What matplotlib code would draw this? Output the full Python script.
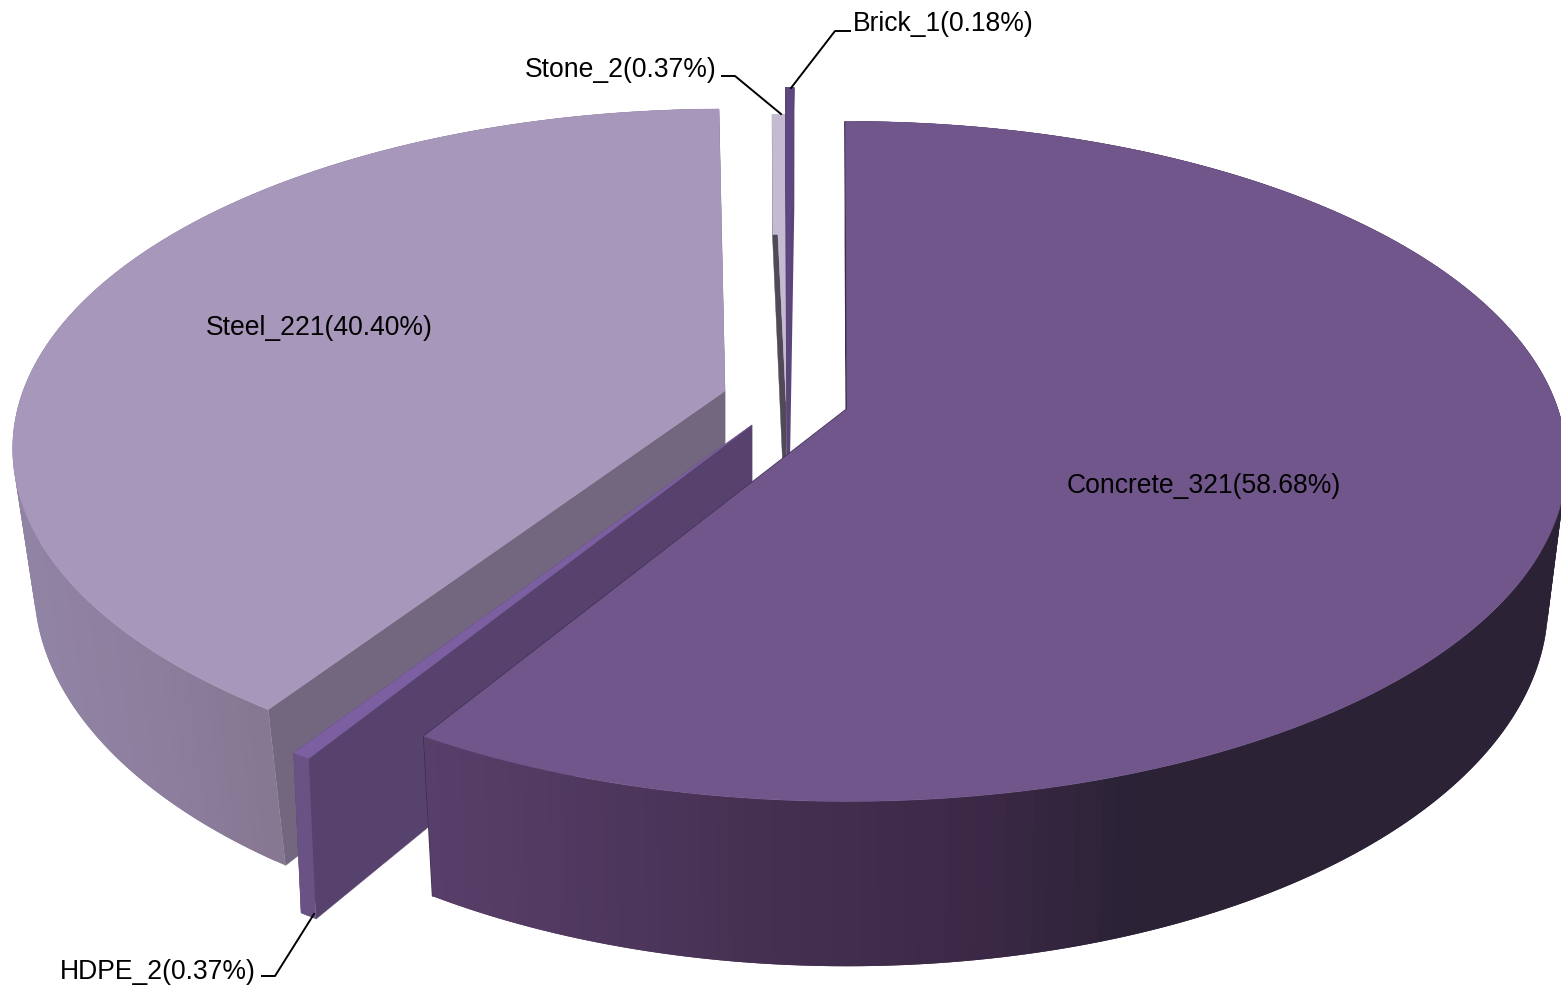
#!/usr/bin/env python3
"""Exploded 3D pie of material counts, drawn as projected polygons"""
import numpy as np
import matplotlib
matplotlib.use('Agg')
import matplotlib.pyplot as plt
from matplotlib.colors import to_rgb
from matplotlib.patches import Polygon

plt.rcParams['font.family'] = ['Liberation Sans', 'DejaVu Sans']

# slices clockwise from 12 o'clock
names = ['Concrete', 'HDPE', 'Steel', 'Stone', 'Brick']
counts = [321, 2, 221, 2, 1]

# projection of the top and bottom disks per slice: a, b, k (pixels)
top_disk = {'Concrete': (711, 332, 0.154), 'HDPE': (727, 342, 0.154), 'Steel': (702, 330, 0.17),
            'Stone': (706, 332, 0.154), 'Brick': (706, 332, 0.154)}
bottom_disk = {'Concrete': (692, 353, 0.16), 'HDPE': (711, 364, 0.16), 'Steel': (682, 353, 0.16),
               'Stone': (690, 353, 0.16), 'Brick': (690, 353, 0.16)}
DEPTH = 137

# per slice geometry: exploded apex and small angle shift in degrees
apex = {'Concrete': (847, 410), 'HDPE': (752, 426), 'Steel': (725, 392),
        'Stone': (786, 403), 'Brick': (788, 376)}
shift = {'Concrete': -0.15, 'HDPE': 0.75, 'Steel': 1.4, 'Stone': 0.67, 'Brick': 0.5}

top_color = {'Concrete': '#71568c', 'HDPE': '#7c5fa0', 'Steel': '#a797bb',
             'Stone': '#c4bbd2', 'Brick': '#5f4880'}
wall_color = {'Concrete': '#3a2c4a', 'HDPE': '#57426e', 'Steel': '#72677f',
              'Stone': '#4f4a55', 'Brick': '#5a4478'}
wall_lw = {'Concrete': 1.2, 'HDPE': 0.3, 'Steel': 0.3, 'Stone': 0.3, 'Brick': 1.6}
# rim shading: (screen x, colour) stops
rim_stops = {'Concrete': [(430, '#583f6a'), (780, '#442f50'), (1000, '#3a2845'), (1130, '#2b2236'), (1561, '#2b2236')],
             'HDPE': [(290, '#6b5285'), (330, '#6b5285')],
             'Steel': [(30, '#9183a3'), (150, '#8d7e9e'), (290, '#84758f')],
             'Stone': [(770, '#c4bbd2'), (790, '#c4bbd2')],
             'Brick': [(780, '#5f4880'), (800, '#5f4880')]}


def project(name, theta, disk, depth=0):
    t = np.radians(theta)
    u, v = np.sin(t), np.cos(t)
    a, b, k = disk[name]
    x0, y0 = apex[name]
    d = 1 + k * v
    return x0 + a * u / d, y0 + depth - b * v / d


def rim_color(name, x):
    xs = [s[0] for s in rim_stops[name]]
    cs = np.array([to_rgb(s[1]) for s in rim_stops[name]])
    return [np.interp(x, xs, cs[:, i]) for i in range(3)]


def draw_slice(ax, name, start, end):
    thetas = np.linspace(start, end, max(int(end - start), 2) + 1)
    tx, ty = project(name, thetas, top_disk)
    bx, by = project(name, thetas, bottom_disk, DEPTH)
    x0, y0 = apex[name]

    # the two cut faces
    for j in [-1, 0]:
        wall = [(x0, y0), (tx[j], ty[j]), (bx[j], by[j]), (x0, y0 + DEPTH)]
        ax.add_patch(Polygon(wall, closed=True, facecolor=wall_color[name],
                             edgecolor=wall_color[name], lw=wall_lw[name]))

    # rim, quads overlap the next one so no seams show
    n = len(thetas)
    for i in range(n - 1):
        e = min(i + 2, n - 1)
        quad = list(zip(tx[i:e + 1], ty[i:e + 1])) + list(zip(bx[i:e + 1], by[i:e + 1]))[::-1]
        c = rim_color(name, (tx[i] + tx[i + 1]) / 2)
        ax.add_patch(Polygon(quad, closed=True, facecolor=c, edgecolor='none'))

    # top face
    pts = [(x0, y0)] + list(zip(tx, ty))
    ax.add_patch(Polygon(pts, closed=True, facecolor=top_color[name],
                         edgecolor=top_color[name], lw=0.3))


def main():
    fig = plt.figure(figsize=(15.61, 9.87), dpi=100)
    ax = fig.add_axes([0, 0, 1, 1])
    ax.set_xlim(0, 1561)
    ax.set_ylim(987, 0)
    ax.axis('off')

    total = sum(counts)
    angles = {}
    run = 0
    for name, c in zip(names, counts):
        span = c / total * 360
        angles[name] = (run + shift[name], run + span + shift[name])
        run += span

    # painter's order, back to front
    for name in ['Steel', 'Stone', 'Brick', 'HDPE', 'Concrete']:
        draw_slice(ax, name, *angles[name])

    label = {n: f'{n}_{c}({c / total * 100:.2f}%)' for n, c in zip(names, counts)}
    fs = 19.1
    ax.text(1204, 486, label['Concrete'], ha='center', va='center', fontsize=fs, color='black')
    ax.text(319, 328, label['Steel'], ha='center', va='center', fontsize=fs, color='black')
    ax.text(717, 70, label['Stone'], ha='right', va='center', fontsize=fs, color='black')
    ax.text(853, 24, label['Brick'], ha='left', va='center', fontsize=fs, color='black')
    ax.text(256, 972, label['HDPE'], ha='right', va='center', fontsize=fs, color='black')

    # leader lines
    ax.plot([722, 735, 781], [77, 77, 115], color='black', lw=1.4)
    ax.plot([791, 835, 850], [89, 32, 32], color='black', lw=1.4)
    ax.plot([314, 275, 262], [915, 977, 977], color='black', lw=1.4)

    fig.savefig('out.png', dpi=100)
    plt.close(fig)


if __name__ == '__main__':
    main()
